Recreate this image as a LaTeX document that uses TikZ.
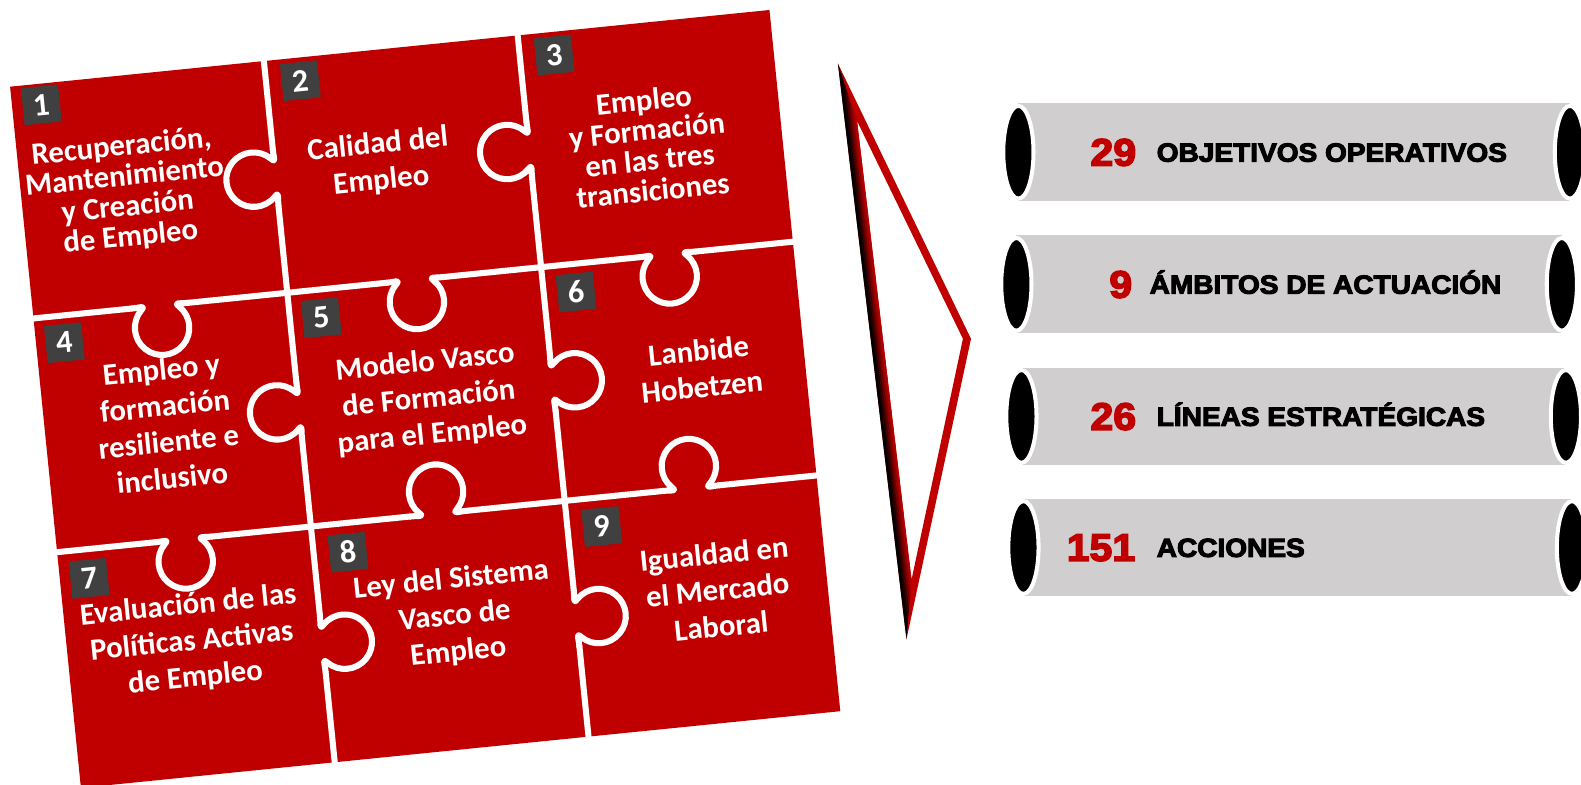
\documentclass[tikz,border=0pt]{standalone}
\usepackage{fontspec}
\setmainfont{Carlito}
\newfontfamily\tubefont[FakeBold=4,FakeStretch=1.07]{Liberation Sans Bold}
\definecolor{puzred}{HTML}{C00000}
\definecolor{boxgray}{HTML}{404040}
\definecolor{tubegray}{HTML}{D0CECE}
\tikzset{
  seam/.style={white, line width=6, line cap=round, line join=round},
  knob/.pic={\draw[seam] (-28,0) .. controls (-18,0) and (-14.2,-2) .. (-19.1,2.9)
      arc[start angle=225, end angle=-45, radius=27]
      .. controls (14.2,-2) and (18,0) .. (28,0);},
  numbox/.style={fill=boxgray, text=white, minimum width=37, minimum height=37,
      inner sep=0, font=\bfseries\fontsize{32}{32}\selectfont},
  piecetext/.style={text=white, align=center, font=\bfseries\fontsize{30.5}{36}\selectfont},
  tightpiece/.style={piecetext, font=\bfseries\fontsize{30.5}{30}\selectfont},
  tubenum/.style={text=puzred, anchor=east, inner sep=0, text height=26.5pt, text depth=0pt,
      font=\tubefont\fontsize{38}{38}\selectfont},
  tubelabel/.style={anchor=west, inner sep=0, text height=18.6pt, text depth=0pt,
      font=\tubefont\fontsize{26}{26}\selectfont},
  tubeend/.style={fill=black, draw=white, line width=4},
}
\begin{document}
\begin{tikzpicture}[x=1pt,y=-1pt]
\useasboundingbox (0,0) rectangle (1568,778);
% puzzle
\begin{scope}[shift={(10,86)}, rotate=5.77, transform shape]
\fill[puzred] (0,0) rectangle (757,699);
\draw[seam] (253,0) -- (253,88) (253,144) -- (253,320) (253,376) -- (253,553) (253,609) -- (253,699);
\draw[seam] (506,0) -- (506,86) (506,142) -- (506,318) (506,374) -- (506,553) (506,609) -- (506,699);
\draw[seam] (0,231) -- (98,231) (154,231) -- (352,231) (408,231) -- (604,231) (660,231) -- (757,231);
\draw[seam] (0,464) -- (98,464) (154,464) -- (352,464) (408,464) -- (604,464) (660,464) -- (757,464);
\pic[rotate=-90] at (253,116) {knob};
\pic[rotate=-90] at (253,348) {knob};
\pic[rotate=90] at (253,581) {knob};
\pic[rotate=-90] at (506,114) {knob};
\pic[rotate=90] at (506,346) {knob};
\pic[rotate=90] at (506,581) {knob};
\pic at (126,231) {knob};
\pic at (380,231) {knob};
\pic at (632,231) {knob};
\pic at (126,464) {knob};
\pic[rotate=180] at (380,464) {knob};
\pic[rotate=180] at (632,464) {knob};
% numbers
\node[numbox] (b1) at (29,21) {1};
\node[numbox] (b2) at (287,23) {2};
\node[numbox] (b3) at (540,23) {3};
\node[numbox] (b4) at (28,258) {4};
\node[numbox] (b5) at (284,259) {5};
\node[numbox] (b6) at (538,259) {6};
\node[numbox] (b7) at (29,493) {7};
\node[numbox] (b8) at (287,493) {8};
\node[numbox] (b9) at (540,493) {9};
% piece texts
\node[tightpiece] (t1) at (104,116) {Recuperación,\\Mantenimiento\\y Creación\\de Empleo};
\node[piecetext] (t2) at (357,112) {Calidad del\\Empleo};
\node[tightpiece] (t3) at (624,121) {Empleo\\y Formación\\en las tres\\transiciones};
\node[piecetext] (t4) at (121,348) {Empleo y\\formación\\resiliente e\\inclusivo};
\node[piecetext] (t5) at (382,350) {Modelo Vasco\\de Formación\\para el Empleo};
\node[piecetext] (t6) at (653,347) {Lanbide\\Hobetzen};
\node[piecetext] (t7) at (124,566) {Evaluación de las\\Políticas Activas\\de Empleo};
\node[piecetext] (t8) at (386,567) {Ley del Sistema\\Vasco de\\Empleo};
\node[piecetext] (t9) at (648,567) {Igualdad en\\el Mercado\\Laboral};
\end{scope}
% bracket
\coordinate (oT) at (831,63);
\coordinate (oR) at (963,336);
\coordinate (oB) at (899,634);
\coordinate (iT) at (850,120);
\coordinate (iR) at (955,336);
\coordinate (iB) at (904,575);
\fill[puzred, even odd rule] (oT) -- (oR) -- (oB) -- cycle (iT) -- (iR) -- (iB) -- cycle;
\begin{scope}
\clip (oT) -- (oB) -- (iB) -- (iT) -- cycle;
\foreach \i/\p in {0/0,1/0,2/15,3/35,4/55,5/75,6/90,7/100}
  \draw[line width=2.2, puzred!\p!black] ([xshift=\i*1.8pt]827.6,34.5) -- ([xshift=\i*1.8pt]902.4,662.5);
\end{scope}
% tubes
\foreach \i/\L/\R/\c/\nx/\lx/\num/\lbl in {
  1/1010/1557/151/1127/1147/29/OBJETIVOS OPERATIVOS,
  2/1008/1549/282/1123/1140/9/ÁMBITOS DE ACTUACIÓN,
  3/1013/1553/413/1127/1147/26/LÍNEAS ESTRATÉGICAS,
  4/1015/1559/543/1126/1147/151/ACCIONES}{
  \fill[tubegray] (\L,\c-48.5) rectangle (\R,\c+48.5);
  \draw[tubeend] (\L,\c) ellipse[x radius=15, y radius=46];
  \draw[tubeend] (\R,\c) ellipse[x radius=15, y radius=46];
  \node[tubenum] (num\i) at (\nx,\c) {\num};
  \node[tubelabel] (lbl\i) at (\lx,\c) {\lbl};
}
\end{tikzpicture}
\end{document}
